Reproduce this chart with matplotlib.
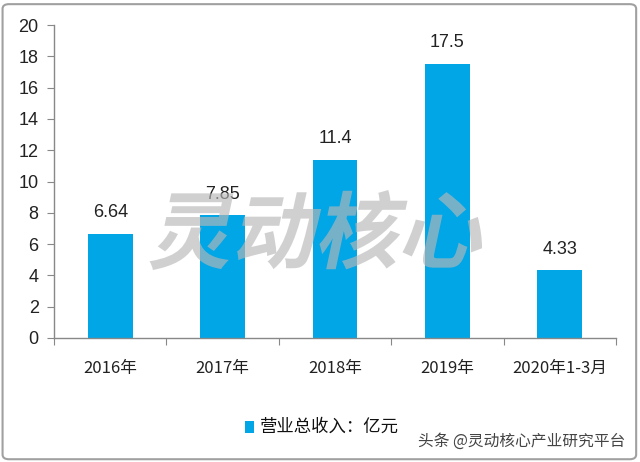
import matplotlib
matplotlib.use("Agg")
import matplotlib.pyplot as plt
from matplotlib.patches import FancyBboxPatch, Rectangle, PathPatch
from matplotlib.textpath import TextPath
from matplotlib.font_manager import FontProperties
from matplotlib.transforms import Affine2D

plt.rcParams['font.family'] = ['Noto Sans CJK SC', 'DejaVu Sans']

categories = ["2016年", "2017年", "2018年", "2019年", "2020年1-3月"]
values = [6.64, 7.85, 11.4, 17.5, 4.33]
value_labels = ["6.64", "7.85", "11.4", "17.5", "4.33"]
yticks = [0, 2, 4, 6, 8, 10, 12, 14, 16, 18, 20]
legend_label = "营业总收入：亿元"
watermark = "灵动核心"
source = "头条 @灵动核心产业研究平台"

color = "#00A6E6"

fig = plt.figure(figsize=(6.4, 4.62), dpi=100)
fig.patch.set_facecolor("white")

# outer frame
frame = FancyBboxPatch((0.004, 0.006), 0.99, 0.985, boxstyle="round,pad=0,rounding_size=0.01",
                       transform=fig.transFigure, fill=False, edgecolor="#a0a0a0", linewidth=1.5)
fig.patches.append(frame)

ax = fig.add_axes([54/640, 1-338/462, (616-54)/640, (338-25)/462])
x = list(range(len(categories)))
ax.bar(x, values, width=0.4, color=color, zorder=2)
for xi, v, lab in zip(x, values, value_labels):
    ax.text(xi, v + 1.35, lab, ha="center", va="center", fontsize=13, color="#222222",
            family=["Liberation Sans Narrow", "Liberation Sans", "DejaVu Sans"])

ax.set_xlim(-0.5, len(categories) - 0.5)
ax.set_ylim(0, 20)
ax.set_yticks(yticks)
ax.set_yticklabels([str(t) for t in yticks], fontsize=13, color="#222222",
                   family=["Liberation Sans Narrow", "Liberation Sans", "DejaVu Sans"])
ax.set_xticks([i - 0.5 for i in range(len(categories) + 1)], minor=False)
ax.set_xticklabels([])
ax.set_xticks(x, minor=True)
ax.set_xticklabels(categories, minor=True, fontsize=12, color="#222222")
ax.tick_params(axis="x", which="minor", length=0, pad=16)
ax.tick_params(axis="x", which="major", length=5, color="#888888", direction="out")
ax.tick_params(axis="y", length=5, color="#888888", direction="out", pad=6)
for s in ["top", "right"]:
    ax.spines[s].set_visible(False)
for s in ["left", "bottom"]:
    ax.spines[s].set_color("#888888")
    ax.spines[s].set_linewidth(1.0)

# watermark (skewed text path in pixel coordinates)
fp = FontProperties(family="Noto Sans CJK SC", weight="bold")
tp = TextPath((0, 0), watermark, size=72, prop=fp)
bb = tp.get_extents()
tr = (Affine2D().translate(-(bb.x0 + bb.x1) / 2, -(bb.y0 + bb.y1) / 2)
      .skew_deg(12, 0).scale(340 / bb.width * 0.97, 80 / bb.height)
      .translate(321, 462 - 230))
wm = PathPatch(tr.transform_path(tp), transform=None, facecolor="#b8b8b8",
               edgecolor="none", alpha=0.65, zorder=5)
fig.patches.append(wm)

# legend
fig.patches.append(Rectangle((245/640, 1-433/462), 9/640, 12/462, transform=fig.transFigure,
                             facecolor=color, edgecolor="none"))
fig.text(260/640, 1-427/462, legend_label, ha="left", va="center", fontsize=12.5, color="#111111")
fig.text(625/640, 1-441/462, source, ha="right", va="center", fontsize=11.3, color="#444444")

fig.savefig("out.png", dpi=100)
